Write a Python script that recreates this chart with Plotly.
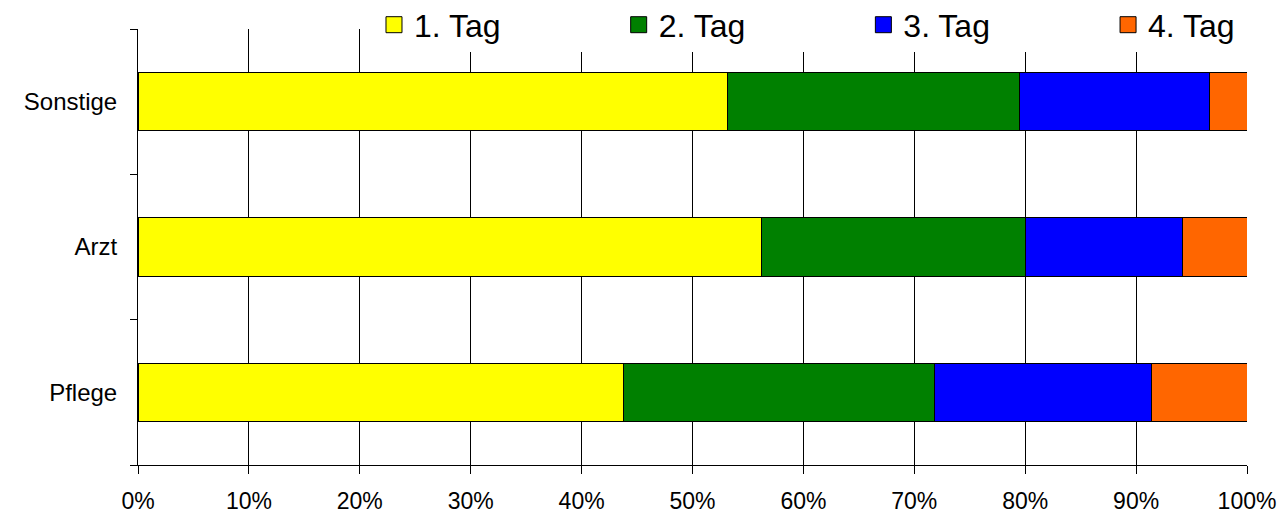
import plotly.graph_objects as go

categories = ["Pflege", "Arzt", "Sonstige"]
series_names = ["1. Tag", "2. Tag", "3. Tag", "4. Tag"]
tag1 = [43.8, 56.2, 53.2]
tag2 = [28.0, 23.8, 26.3]
tag3 = [19.6, 14.2, 17.1]
tag4 = [8.6, 5.8, 3.4]
series_values = [tag1, tag2, tag3, tag4]
colors = ["#FFFF00", "#008000", "#0000FF", "#FF6600"]
x_ticks = [0, 10, 20, 30, 40, 50, 60, 70, 80, 90, 100]
x_tick_labels = [f"{v}%" for v in x_ticks]
grid_vals = [10, 20, 30, 40, 50, 60, 70, 80, 90]

FONT = "Liberation Sans, Arial, sans-serif"
PAD = "\u00a0" * 12 + "\u2009"

fig = go.Figure()
for name, vals, col in zip(series_names, series_values, colors):
    fig.add_trace(go.Bar(
        y=categories, x=vals, name=name, orientation="h",
        marker=dict(color=col, line=dict(color="#000000", width=1)),
        showlegend=False,
    ))
for i, (name, col) in enumerate(zip(series_names, colors)):
    label = name + (PAD if i < len(series_names) - 1 else "")
    fig.add_trace(go.Scatter(
        x=[None], y=[None], name=label, mode="markers", xaxis="x2",
        marker=dict(symbol="square", size=16, color=col,
                    line=dict(color="#000000", width=1)),
    ))

fig.update_layout(
    width=1280, height=516,
    margin=dict(l=138, r=33, t=29, b=51, autoexpand=False),
    paper_bgcolor="white", plot_bgcolor="white",
    barmode="stack", bargap=0.6,
    font=dict(family=FONT, color="#000000", size=24),
    legend=dict(
        orientation="h", x=0.2128, xanchor="left", y=1.0094, yanchor="middle",
        bgcolor="white", font=dict(size=32, color="#000000", family=FONT),
        itemsizing="trace", traceorder="normal",
    ),
    xaxis=dict(
        range=[0, 100], tickvals=grid_vals, showticklabels=False,
        showgrid=True, gridcolor="#000000", gridwidth=1, ticks="",
        zeroline=False, showline=False,
    ),
    xaxis2=dict(
        overlaying="x", matches="x", anchor="y", side="bottom",
        range=[0, 100], tickvals=x_ticks, ticktext=x_tick_labels,
        ticks="outside", ticklen=8, tickcolor="#000000", tickwidth=1,
        showline=True, linecolor="#000000", linewidth=1,
        showgrid=False, zeroline=False, ticklabelstandoff=7,
        tickfont=dict(size=23, family=FONT),
    ),
    yaxis=dict(
        categoryorder="array", categoryarray=categories,
        tickson="boundaries", ticks="outside", ticklen=7,
        tickcolor="#000000", showline=True, linecolor="#000000",
        linewidth=1, showgrid=False, zeroline=False,
        ticklabelstandoff=15, tickfont=dict(size=24, family=FONT),
    ),
)

fig.write_html("out.html", config={"displayModeBar": False},
               post_script="document.body.style.margin='0';")
